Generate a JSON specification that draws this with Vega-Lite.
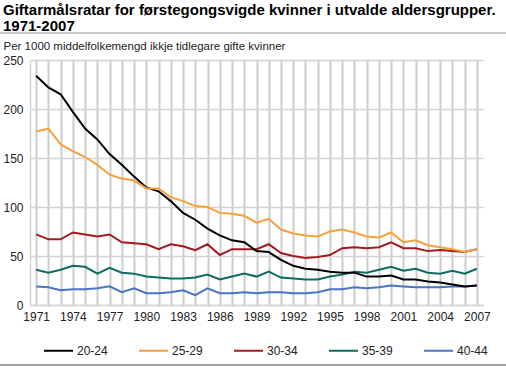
{
  "$schema": "https://vega.github.io/schema/vega-lite/v6.json",
  "autosize": {"type": "none"},
  "width": 453,
  "height": 245,
  "padding": {"left": 30, "top": 60, "right": 23, "bottom": 63},
  "background": "white",
  "config": {
    "font": "Liberation Sans",
    "view": {"stroke": null},
    "axis": {"labelFont": "Liberation Sans", "titleFont": "Liberation Sans"}
  },
  "title": {
    "text": ["Giftarmålsratar for førstegongsvigde kvinner i utvalde aldersgrupper.", "1971-2007"],
    "anchor": "start",
    "frame": "group",
    "dx": -27,
    "fontSize": 15,
    "fontWeight": "bold",
    "color": "#000000",
    "lineHeight": 16,
    "offset": -2
  },
  "resolve": {"axis": {"x": "independent", "y": "independent"}},
  "data": {
    "values": [
      {"year": 1971, "20-24": 234, "25-29": 177, "30-34": 72, "35-39": 36, "40-44": 19},
      {"year": 1972, "20-24": 222, "25-29": 180, "30-34": 67, "35-39": 33, "40-44": 18},
      {"year": 1973, "20-24": 215, "25-29": 164, "30-34": 67, "35-39": 36, "40-44": 15},
      {"year": 1974, "20-24": 197, "25-29": 157, "30-34": 74, "35-39": 40, "40-44": 16},
      {"year": 1975, "20-24": 180, "25-29": 151, "30-34": 72, "35-39": 39, "40-44": 16},
      {"year": 1976, "20-24": 169, "25-29": 143, "30-34": 70, "35-39": 32, "40-44": 17},
      {"year": 1977, "20-24": 154, "25-29": 133, "30-34": 72, "35-39": 38, "40-44": 19},
      {"year": 1978, "20-24": 143, "25-29": 129, "30-34": 64, "35-39": 33, "40-44": 13},
      {"year": 1979, "20-24": 131, "25-29": 127, "30-34": 63, "35-39": 32, "40-44": 17},
      {"year": 1980, "20-24": 120, "25-29": 119, "30-34": 62, "35-39": 29, "40-44": 12},
      {"year": 1981, "20-24": 116, "25-29": 119, "30-34": 57, "35-39": 28, "40-44": 12},
      {"year": 1982, "20-24": 106, "25-29": 110, "30-34": 62, "35-39": 27, "40-44": 13},
      {"year": 1983, "20-24": 94, "25-29": 106, "30-34": 60, "35-39": 27, "40-44": 15},
      {"year": 1984, "20-24": 87, "25-29": 101, "30-34": 56, "35-39": 28, "40-44": 10},
      {"year": 1985, "20-24": 78, "25-29": 100, "30-34": 62, "35-39": 31, "40-44": 17},
      {"year": 1986, "20-24": 71, "25-29": 94, "30-34": 51, "35-39": 26, "40-44": 12},
      {"year": 1987, "20-24": 66, "25-29": 93, "30-34": 57, "35-39": 29, "40-44": 12},
      {"year": 1988, "20-24": 64, "25-29": 91, "30-34": 57, "35-39": 32, "40-44": 13},
      {"year": 1989, "20-24": 55, "25-29": 84, "30-34": 57, "35-39": 29, "40-44": 12},
      {"year": 1990, "20-24": 54, "25-29": 88, "30-34": 62, "35-39": 34, "40-44": 13},
      {"year": 1991, "20-24": 46, "25-29": 77, "30-34": 53, "35-39": 28, "40-44": 13},
      {"year": 1992, "20-24": 40, "25-29": 73, "30-34": 50, "35-39": 27, "40-44": 12},
      {"year": 1993, "20-24": 37, "25-29": 71, "30-34": 48, "35-39": 26, "40-44": 12},
      {"year": 1994, "20-24": 36, "25-29": 70, "30-34": 49, "35-39": 26, "40-44": 13},
      {"year": 1995, "20-24": 34, "25-29": 75, "30-34": 51, "35-39": 29, "40-44": 16},
      {"year": 1996, "20-24": 33, "25-29": 77, "30-34": 58, "35-39": 31, "40-44": 16},
      {"year": 1997, "20-24": 33, "25-29": 74, "30-34": 59, "35-39": 34, "40-44": 18},
      {"year": 1998, "20-24": 29, "25-29": 70, "30-34": 58, "35-39": 33, "40-44": 17},
      {"year": 1999, "20-24": 29, "25-29": 69, "30-34": 59, "35-39": 36, "40-44": 18},
      {"year": 2000, "20-24": 30, "25-29": 74, "30-34": 64, "35-39": 39, "40-44": 20},
      {"year": 2001, "20-24": 26, "25-29": 64, "30-34": 58, "35-39": 35, "40-44": 19},
      {"year": 2002, "20-24": 26, "25-29": 66, "30-34": 58, "35-39": 37, "40-44": 18},
      {"year": 2003, "20-24": 24, "25-29": 61, "30-34": 55, "35-39": 33, "40-44": 18},
      {"year": 2004, "20-24": 23, "25-29": 59, "30-34": 56, "35-39": 32, "40-44": 18},
      {"year": 2005, "20-24": 21, "25-29": 57, "30-34": 55, "35-39": 35, "40-44": 19},
      {"year": 2006, "20-24": 19, "25-29": 54, "30-34": 54, "35-39": 32, "40-44": 19},
      {"year": 2007, "20-24": 20, "25-29": 57, "30-34": 57, "35-39": 37, "40-44": 20}
    ]
  },
  "layer": [
    {
      "transform": [
        {"fold": ["30-34", "40-44", "35-39", "20-24", "25-29"], "as": ["group", "value"]}
      ],
      "mark": {"type": "line", "strokeWidth": 2},
      "encoding": {
        "x": {
          "field": "year",
          "type": "quantitative",
          "scale": {"domain": [1970.5, 2007.5], "nice": false, "zero": false},
          "axis": {
            "title": null,
            "values": [1971,1972,1973,1974,1975,1976,1977,1978,1979,1980,1981,1982,1983,1984,1985,1986,1987,1988,1989,1990,1991,1992,1993,1994,1995,1996,1997,1998,1999,2000,2001,2002,2003,2004,2005,2006,2007],
            "format": "d",
            "labelExpr": "(datum.value - 1971) % 3 == 0 ? datum.label : ''",
            "labelFontSize": 12,
            "labelColor": "#222222",
            "labelPadding": 6,
            "labelOverlap": false,
            "labelFlush": false,
            "ticks": false,
            "grid": true,
            "gridColor": "#cccccc",
            "gridWidth": 2,
            "domain": true,
            "domainColor": "#d4d4d4",
            "domainWidth": 1.5
          }
        },
        "y": {
          "field": "value",
          "type": "quantitative",
          "scale": {"domain": [0, 250], "nice": false},
          "axis": {
            "title": "Per 1000 middelfolkemengd ikkje tidlegare gifte kvinner",
            "titleAngle": 0,
            "titleAlign": "left",
            "titleBaseline": "alphabetic",
            "titleX": -27,
            "titleY": -11,
            "titleFontSize": 11.5,
            "titleFontWeight": "normal",
            "titleColor": "#222222",
            "values": [0, 50, 100, 150, 200, 250],
            "labelFontSize": 12,
            "labelColor": "#222222",
            "labelPadding": 7,
            "ticks": false,
            "grid": true,
            "gridColor": "#d4d4d4",
            "gridWidth": 1.5,
            "domain": true,
            "domainColor": "#d4d4d4",
            "domainWidth": 1.5
          }
        },
        "color": {
          "field": "group",
          "type": "nominal",
          "scale": {
            "domain": ["20-24", "25-29", "30-34", "35-39", "40-44"],
            "range": ["#000000", "#f7a03c", "#a31a1f", "#0e6b62", "#4a74c4"]
          },
          "legend": {
            "title": null,
            "orient": "none",
            "direction": "horizontal",
            "legendX": 13,
            "legendY": 275,
            "symbolType": "stroke",
            "symbolSize": 841,
            "symbolStrokeWidth": 2,
            "labelFontSize": 12,
            "labelColor": "#222222",
            "labelOffset": 3,
            "columnPadding": 27
          }
        }
      }
    },
    {
      "mark": {"type": "rule", "color": "#c8c8c8", "strokeWidth": 2},
      "encoding": {
        "x": {"datum": 1968.05, "type": "quantitative", "axis": null},
        "x2": {"datum": 2009.4},
        "y": {"datum": 277.5, "type": "quantitative", "axis": null}
      }
    },
    {
      "mark": {"type": "rule", "color": "#a0a0a0", "strokeWidth": 1},
      "encoding": {
        "x": {"datum": 1968.05, "type": "quantitative", "axis": null},
        "x2": {"datum": 2009.4},
        "y": {"datum": -61.2, "type": "quantitative", "axis": null}
      }
    }
  ]
}
